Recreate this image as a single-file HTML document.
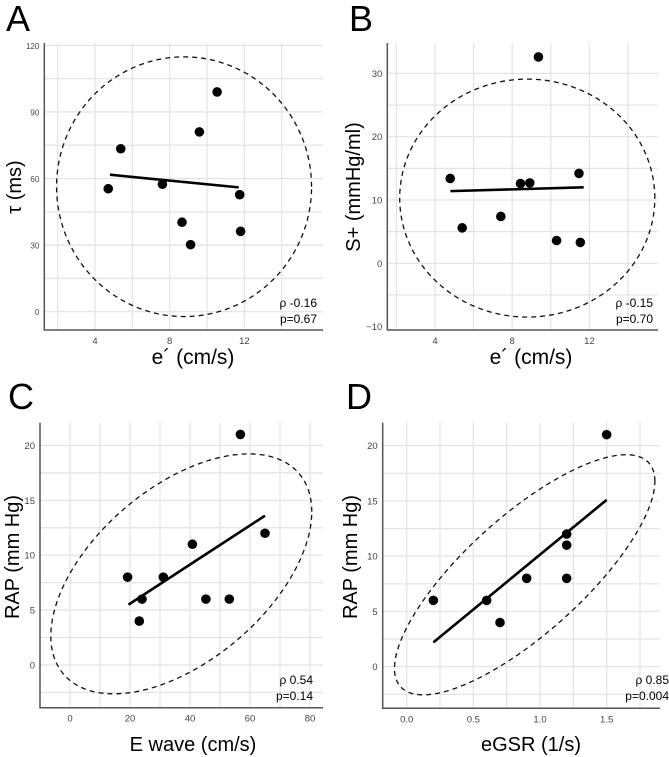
<!DOCTYPE html>
<html><head><meta charset="utf-8">
<style>
html,body{margin:0;padding:0;background:#fff;}
svg{display:block;font-family:"Liberation Sans",sans-serif;}
</style></head>
<body>
<svg id="fig" width="669" height="757" viewBox="0 0 669 757"></svg>
<script>
// Panel A data
const aX = [4.71,5.38,7.61,8.66,9.12,9.59,10.54,11.75,11.8];
const aY = [55.4,73.4,57.4,40.3,30.2,81,99,52.7,36.2];
const aFit = [[4.8,61.7],[11.7,56]];
const aXTicks = [4,8,12];
const aYTicks = [0,30,60,90,120];
// Panel B data
const bX = [4.79,5.41,7.41,8.43,8.91,9.36,10.3,11.46,11.53];
const bY = [13.4,5.6,7.4,12.6,12.7,32.6,3.6,14.2,3.3];
const bFit = [[4.8,11.4],[11.7,12.0]];
const bXTicks = [4,8,12];
const bYTicks = [-10,0,10,20,30];
// Panel C data
const cX = [19.2,23.1,24,31.1,40.8,45.3,53.1,56.8,65];
const cY = [8,4,6,8,11,6,6,21,12];
const cFit = [[19.5,5.5],[65,13.6]];
const cXTicks = [0,20,40,60,80];
const cYTicks = [0,5,10,15,20];
// Panel D data
const dX = [0.2,0.6,0.7,0.9,1.2,1.2,1.2,1.5];
const dY = [6,6,4,8,12,11,8,21];
const dFit = [[0.2,2.2],[1.5,15.1]];
const dXTicks = [0.0,0.5,1.0,1.5];
const dYTicks = [0,5,10,15,20];

const NS="http://www.w3.org/2000/svg";
const svg=document.getElementById('fig');
function mk(tag,attrs,parent){const e=document.createElementNS(NS,tag);for(const k in attrs)e.setAttribute(k,attrs[k]);(parent||svg).appendChild(e);return e;}

function panel(p){
  const g=mk('g',{});
  
  
  // scales: px0 at x0 value, ppx per unit
  const sx=v=>p.xp0+(v-p.xv0)*p.kx;
  const sy=v=>p.yp0-(v-p.yv0)*p.ky;
  // gridlines
  for(let v=p.gxMin; v<=p.gxMax+1e-9; v+=p.gxStep){
    const x=sx(v);
    const l=mk('line',{x1:x,x2:x,y1:p.top,y2:p.bottom,stroke:'#e3e3e3','stroke-width':1.2},g);
    
    
  }
  for(let v=p.gyMin; v<=p.gyMax+1e-9; v+=p.gyStep){
    const y=sy(v);
    const l=mk('line',{x1:p.left,x2:p.right,y1:y,y2:y,stroke:'#e3e3e3','stroke-width':1.2},g);
    
    
  }
  // axes
  const ax=mk('path',{d:`M${p.left},${p.top} V${p.bottom} H${p.right}`,fill:'none',stroke:'#555','stroke-width':1.5},g);
  
  
  // tick labels
  p.xTicks.forEach(v=>{
    const t=mk('text',{x:sx(v),y:p.bottom+14,'text-anchor':'middle','font-size':9.5,fill:'#444'},g);
    t.textContent=p.xFmt?p.xFmt(v):String(v);
    
    
  });
  p.yTicks.forEach(v=>{
    const t=mk('text',{x:p.left-5,y:sy(v)+3.5,'text-anchor':'end','font-size':p.ySmall?8:9.5,fill:'#444'},g);
    t.textContent=v<0?'\u2212'+Math.abs(v):String(v);
    
    
  });
  // ellipse
  let d='';
  for(let i=0;i<=120;i++){
    const t=i/120*2*Math.PI;
    const xv=p.ell.cx+p.ell.a1*Math.cos(t);
    const yv=p.ell.cy+p.ell.a2*Math.cos(t)+p.ell.b2*Math.sin(t);
    d+=(i?'L':'M')+sx(xv).toFixed(2)+','+sy(yv).toFixed(2);
  }
  const el=mk('path',{d:d+'Z',fill:'none',stroke:'#111','stroke-width':1.3,'stroke-dasharray':'5,4'},g);
  
  
  // fit line
  const fl=mk('line',{x1:sx(p.fit[0][0]),y1:sy(p.fit[0][1]),x2:sx(p.fit[1][0]),y2:sy(p.fit[1][1]),stroke:'#000','stroke-width':2.6},g);
  
  
  // points
  p.xs.forEach((xv,i)=>{
    const c=mk('circle',{cx:sx(xv),cy:sy(p.ys[i]),r:4.8,fill:'#000'},g);
    
    
  });
  // annotation
  const a1=mk('text',{x:p.annX,y:p.annY,'text-anchor':'end','font-size':12,fill:'#000'},g);
  a1.textContent=p.rho;
  
  
  const a2=mk('text',{x:p.annX,y:p.annY+16,'text-anchor':'end','font-size':12,fill:'#000'},g);
  a2.textContent=p.pval;
  
  
  // titles
  const xt=mk('text',{x:p.xtX,y:p.xtY,'text-anchor':'middle','font-size':p.xtSize,fill:'#000'},g);
  xt.textContent=p.xTitle;
  
  
  const yt=mk('text',{x:0,y:0,'text-anchor':'middle','font-size':p.ytSize,fill:'#000',transform:`translate(${p.ytX},${p.ytY}) rotate(-90)`},g);
  yt.textContent=p.yTitle;
  
  
  const L=mk('text',{x:p.letX,y:p.letY,'font-size':36,fill:'#000'},g);
  L.textContent=p.id;
  
  
}

panel({id:'A',xs:aX,ys:aY,fit:aFit,xTicks:aXTicks,yTicks:aYTicks,ySmall:true,
  xp0:95,xv0:4,kx:18.67,yp0:311.7,yv0:0,ky:2.22,
  left:44.3,right:323,top:43,bottom:330,
  gxMin:2,gxMax:14,gxStep:2,gyMin:0,gyMax:120,gyStep:15,
  ell:{cx:8.77,cy:56.3,a1:6.83,a2:0,b2:58.5},
  annX:317,annY:307,rho:'ρ -0.16',pval:'p=0.67',
  xTitle:'e´ (cm/s)',xtX:193,xtY:364,xtSize:21,yTitle:'τ (ms)',ytX:21,ytY:187,ytSize:20,letX:6,letY:31});
panel({id:'B',xs:bX,ys:bY,fit:bFit,xTicks:bXTicks,yTicks:bYTicks,
  xp0:435,xv0:4,kx:19.3,yp0:263.3,yv0:0,ky:6.33,
  left:387.3,right:658,top:43,bottom:330,
  gxMin:2,gxMax:14,gxStep:2,gyMin:-5,gyMax:30,gyStep:5,
  ell:{cx:8.78,cy:10.3,a1:6.61,a2:0,b2:18.8},
  annX:653,annY:307,rho:'ρ -0.15',pval:'p=0.70',
  xTitle:'e´ (cm/s)',xtX:531,xtY:364,xtSize:21,yTitle:'S+ (mmHg/ml)',ytX:360,ytY:187,ytSize:20,letX:349,letY:31});
panel({id:'C',xs:cX,ys:cY,fit:cFit,xTicks:cXTicks,yTicks:cYTicks,
  xp0:70,xv0:0,kx:3,yp0:665,yv0:0,ky:10.98,
  left:40,right:323,top:422.7,bottom:707.7,
  gxMin:0,gxMax:80,gxStep:10,gyMin:-2.5,gyMax:20,gyStep:2.5,
  ell:{cx:37.1,cy:8.3,a1:43.5,a2:5.66,b2:9.35},
  annX:313,annY:684,rho:'ρ 0.54',pval:'p=0.14',
  xTitle:'E wave (cm/s)',xtX:193,xtY:751,xtSize:20,yTitle:'RAP (mm Hg)',ytX:19,ytY:557,ytSize:20,letX:8,letY:409});
panel({id:'D',xs:dX,ys:dY,fit:dFit,xTicks:dXTicks,yTicks:dYTicks,xFmt:v=>v.toFixed(1),
  xp0:406.7,xv0:0,kx:133.3,yp0:666.7,yv0:0,ky:11.05,
  left:382.7,right:660,top:422.7,bottom:708.3,
  gxMin:0,gxMax:1.75,gxStep:0.25,gyMin:-2.5,gyMax:20,gyStep:2.5,
  ell:{cx:0.885,cy:8.32,a1:0.977,a2:8.47,b2:6.81},
  annX:669,annY:684,rho:'ρ 0.85',pval:'p=0.004',
  xTitle:'eGSR (1/s)',xtX:531,xtY:751,xtSize:20,yTitle:'RAP (mm Hg)',ytX:357,ytY:557,ytSize:20,letX:346,letY:409});
</script>
</body></html>
